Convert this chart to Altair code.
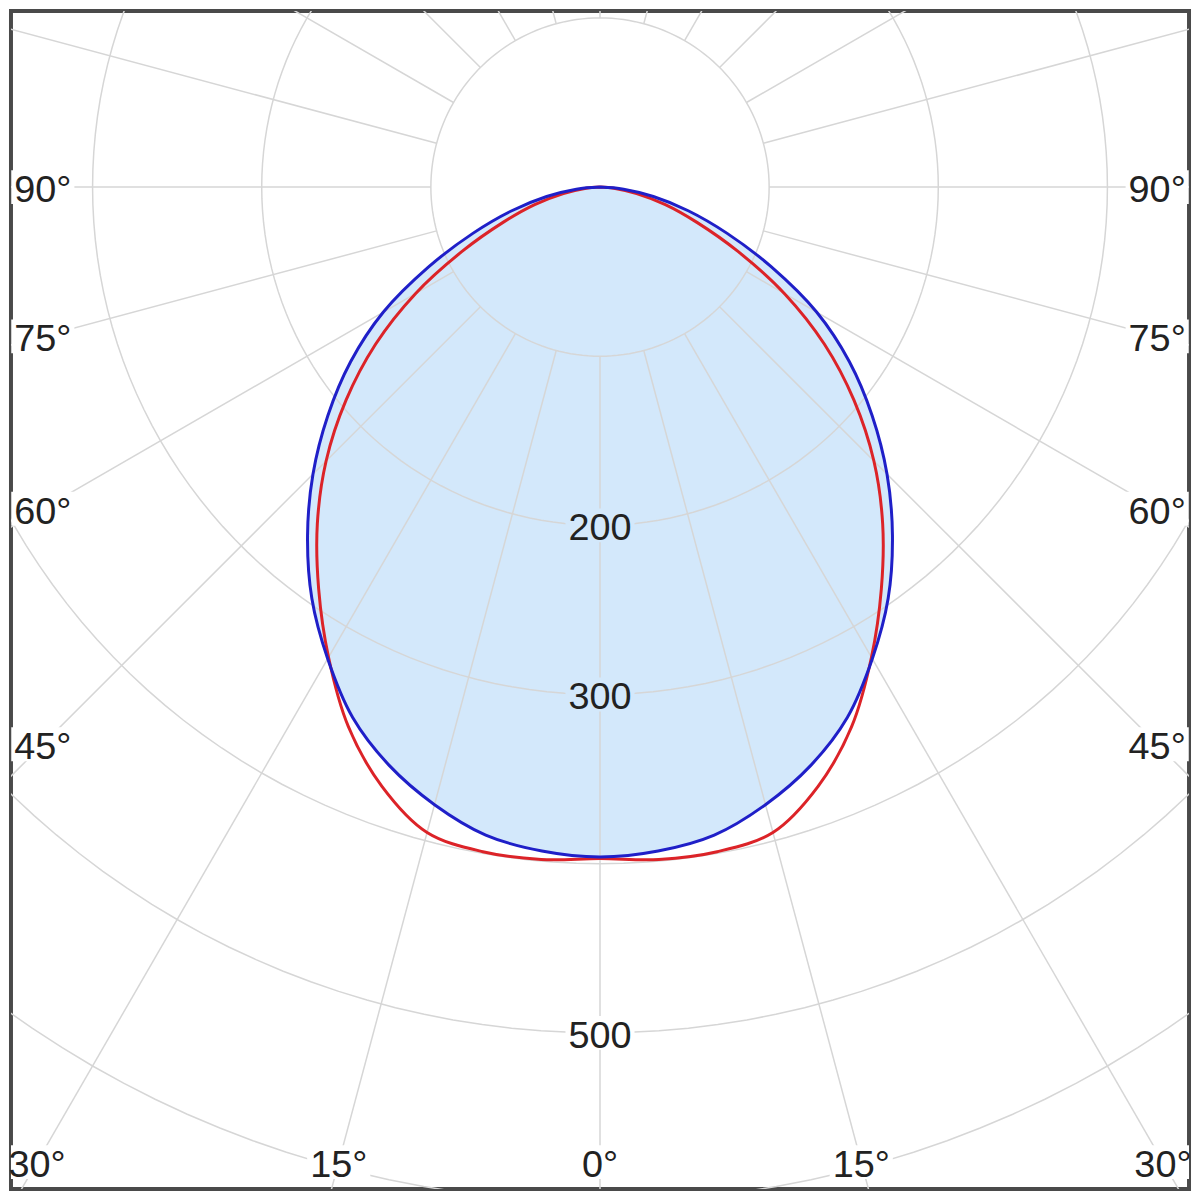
import altair as alt
import numpy as np
import pandas as pd

# ---- values (cd/klm against gamma angle, degrees) ----
gamma = [0, 5, 10, 15, 20, 25, 30, 35, 40, 45, 50, 55, 60, 65, 70, 75, 80, 85, 90]
red_cd = [397, 399, 399, 395, 377, 352, 321, 290, 260, 229, 196, 162, 126, 90, 61, 40, 22, 9, 0]
blue_cd = [396, 394, 389, 378, 364, 346, 322, 297, 269, 240, 210, 180, 148, 112, 80, 54, 32, 14, 0]

grid_radii = [100, 200, 300, 400, 500, 600, 700]
spoke_angles = list(range(0, 360, 15))
radial_label_values = [200, 300, 500]
radial_label_text = ["200", "300", "500"]
side_label_angles = [90, 75, 60, 45]
bottom_label_angles = [-30, -15, 0, 15, 30]

# ---- styling / layout ----
PX = 1.7                      # pixels per cd/klm
CX, CY = 600, 185             # pole position in the reference picture
FILL = "#d3e8fb"
RED = "#dc2328"
BLUE = "#1f1fc8"
GRID = "#d6d6d6"
TEXT = "#222222"
FS = 38

x_scale = alt.Scale(domain=[(8 - CX) / PX, (1192 - CX) / PX], nice=False, zero=False)
y_scale = alt.Scale(domain=[(CY - 1192) / PX, (CY - 8) / PX], nice=False, zero=False)


def curve(name, vals):
    g = np.array(gamma, float)
    v = np.array(vals, float)
    full_g = np.concatenate([-g[::-1], g[1:]])
    full_v = np.concatenate([v[::-1], v[1:]])
    th = np.radians(full_g)
    return pd.DataFrame({"x": full_v * np.sin(th), "y": -full_v * np.cos(th),
                         "order": np.arange(len(full_g)), "series": name})


red_df = curve("C0-C180", red_cd)
blue_df = curve("C90-C270", blue_cd)

# grid circles
crow = []
for r in grid_radii:
    for i, t in enumerate(range(0, 361, 2)):
        a = np.radians(t)
        crow.append({"r": r, "order": i, "x": r * np.sin(a), "y": -r * np.cos(a)})
circ_df = pd.DataFrame(crow)

# spokes from the innermost circle outward
srow = []
for t in spoke_angles:
    a = np.radians(t)
    srow.append({"x": 100 * np.sin(a), "y": -100 * np.cos(a),
                 "x2": 1500 * np.sin(a), "y2": -1500 * np.cos(a)})
spoke_df = pd.DataFrame(srow)

# labels
lrow = []
for v, t in zip(radial_label_values, radial_label_text):
    lrow.append({"x": 0.0, "y": -float(v), "text": t, "bg": FILL if v < 400 else "white"})
inset_x = (CX - 40) / PX
for t in side_label_angles:
    yy = -inset_x / np.tan(np.radians(t)) if t != 90 else 0.0
    lrow.append({"x": -inset_x, "y": yy, "text": f"{t}°", "bg": "white"})
    lrow.append({"x": inset_x, "y": yy, "text": f"{t}°", "bg": "white"})
inset_y = (1165 - CY) / PX
for t in bottom_label_angles:
    lrow.append({"x": inset_y * np.tan(np.radians(t)), "y": -inset_y,
                 "text": f"{abs(t)}°", "bg": "white"})
lab_df = pd.DataFrame(lrow)
wid = lab_df["text"].apply(lambda s: (sum(0.556 for c in s if c.isdigit()) + 0.4 * ("°" in s)) * FS + 6) / PX
hei = 34 / PX
lab_df["x1"] = lab_df["x"] - wid / 2
lab_df["x2"] = lab_df["x"] + wid / 2
lab_df["y1"] = lab_df["y"] - hei / 2
lab_df["y2"] = lab_df["y"] + hei / 2

X = lambda: alt.X("x:Q", scale=x_scale, axis=None)
Y = lambda: alt.Y("y:Q", scale=y_scale, axis=None)

fill = alt.Chart(blue_df).mark_line(
    fill=FILL, strokeOpacity=0, interpolate="catmull-rom", clip=True
).encode(x=X(), y=Y(), order="order:Q")

circles = alt.Chart(circ_df).mark_line(
    color=GRID, strokeWidth=1.5, clip=True
).encode(x=X(), y=Y(), detail="r:N", order="order:Q")

spokes = alt.Chart(spoke_df).mark_rule(
    color=GRID, strokeWidth=1.5, clip=True
).encode(x=X(), y=Y(), x2="x2:Q", y2="y2:Q")

masks = alt.Chart(lab_df).mark_rect(clip=True).encode(
    x=alt.X("x1:Q", scale=x_scale, axis=None), x2="x2:Q",
    y=alt.Y("y1:Q", scale=y_scale, axis=None), y2="y2:Q",
    color=alt.Color("bg:N", scale=None),
)

labels = alt.Chart(lab_df).mark_text(
    font="Liberation Sans", fontSize=FS, color=TEXT, align="center", baseline="middle", dy=4
).encode(x=X(), y=Y(), text="text:N")

red_line = alt.Chart(red_df).mark_line(
    color=RED, strokeWidth=3, interpolate="catmull-rom", clip=True
).encode(x=X(), y=Y(), order="order:Q")

blue_line = alt.Chart(blue_df).mark_line(
    color=BLUE, strokeWidth=3, interpolate="catmull-rom", clip=True
).encode(x=X(), y=Y(), order="order:Q")

chart = alt.layer(fill, circles, spokes, masks, labels, red_line, blue_line).properties(
    width=1184, height=1184, padding=0, background="white"
).configure_view(stroke="#4a4a4a", strokeWidth=4)

chart.save("out.html", embed_options={"renderer": "svg", "actions": False})
